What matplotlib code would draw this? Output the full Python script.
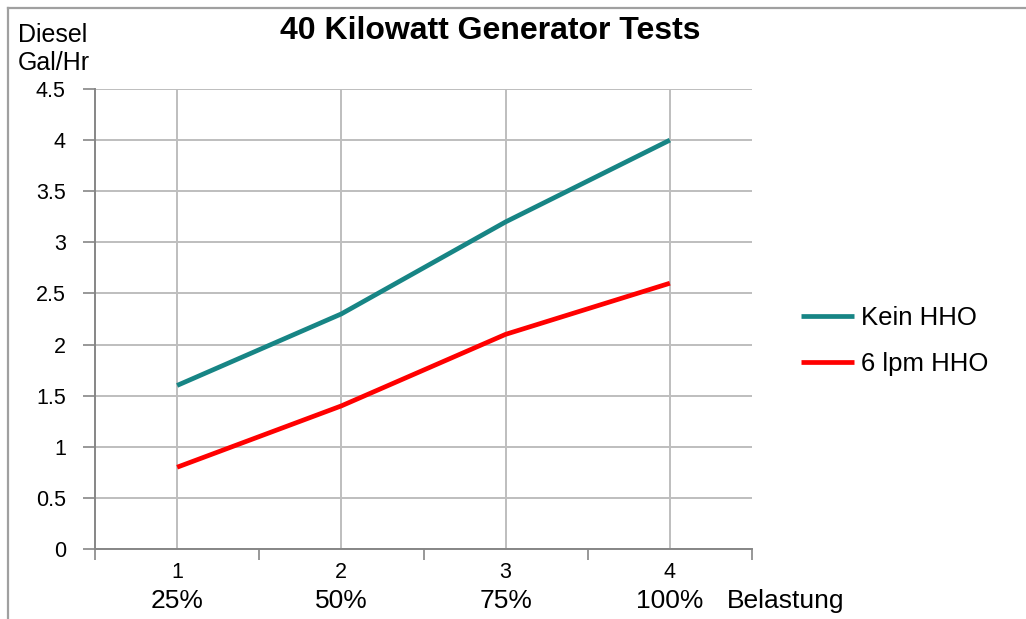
import matplotlib
matplotlib.use("Agg")
import matplotlib.pyplot as plt
from matplotlib.lines import Line2D

plt.rcParams['font.family'] = ['Liberation Sans', 'DejaVu Sans']

categories = [1, 2, 3, 4]
load_labels = ["25%", "50%", "75%", "100%"]
kein_hho = [1.6, 2.3, 3.2, 4.0]
lpm6_hho = [0.8, 1.4, 2.1, 2.6]
y_ticks = [0, 0.5, 1, 1.5, 2, 2.5, 3, 3.5, 4, 4.5]
y_tick_labels = ["0", "0.5", "1", "1.5", "2", "2.5", "3", "3.5", "4", "4.5"]

W, H = 1026, 619
fig = plt.figure(figsize=(W / 100, H / 100), dpi=100)
ax = fig.add_axes([95 / W, 1 - 549 / H, (752 - 95) / W, (549 - 89) / H])

grid_c = "#BEBEBE"
axis_c = "#868686"

ax.plot(categories, kein_hho, color="#178585", lw=3.4, label="Kein HHO", solid_capstyle="butt")
ax.plot(categories, lpm6_hho, color="#FF0000", lw=3.4, label="6 lpm HHO", solid_capstyle="butt")

ax.set_xlim(0.5, 4.5)
ax.set_ylim(0, 4.5)
ax.set_yticks(y_ticks)
ax.set_yticklabels(y_tick_labels, fontsize=15.5)
ax.set_xticks(categories)
ax.set_xticklabels([str(c) for c in categories], fontsize=15.5)
ax.tick_params(axis="x", which="major", length=0, pad=9)
ax.set_xticks([c - 0.5 for c in categories] + [categories[-1] + 0.5], minor=True)
ax.tick_params(axis="x", which="minor", length=8, color=axis_c, width=1.2, direction="out")
ax.tick_params(axis="y", length=9, color=axis_c, width=1.2, direction="out", pad=12)

ax.grid(True, which="major", axis="both", color=grid_c, lw=1.4)
ax.set_axisbelow(True)
for s in ["top", "right"]:
    ax.spines[s].set_visible(False)
for s in ["left", "bottom"]:
    ax.spines[s].set_color(axis_c)
    ax.spines[s].set_linewidth(1.4)

# percentage labels under categories
for c, lab in zip(categories, load_labels):
    ax.annotate(lab, xy=(c, 0), xycoords="data", xytext=(0, -52), textcoords="offset pixels",
                ha="center", va="center", fontsize=19)
fig.text(727 / W, 1 - 601 / H, "Belastung", ha="left", va="center", fontsize=19)

fig.text(18 / W, 1 - 23 / H, "Diesel\nGal/Hr", ha="left", va="top", fontsize=18, linespacing=1.2)
fig.text(490 / W, 1 - 31 / H, "40 Kilowatt Generator Tests", ha="center", va="center",
         fontsize=23, fontweight="bold")

leg = fig.legend(loc="center left", bbox_to_anchor=(801 / W, 1 - 341 / H), frameon=False,
                 fontsize=18.5, handlelength=2.05, handletextpad=0.3, labelspacing=0.88,
                 borderpad=0, borderaxespad=0)

# figure border (top and left)
fig.add_artist(Line2D([8 / W, 1], [1 - 8 / H, 1 - 8 / H], transform=fig.transFigure,
                      color="#A0A0A0", lw=1.6))
fig.add_artist(Line2D([8 / W, 8 / W], [0, 1 - 8 / H], transform=fig.transFigure,
                      color="#A0A0A0", lw=1.6))

fig.savefig("out.png", dpi=100)
